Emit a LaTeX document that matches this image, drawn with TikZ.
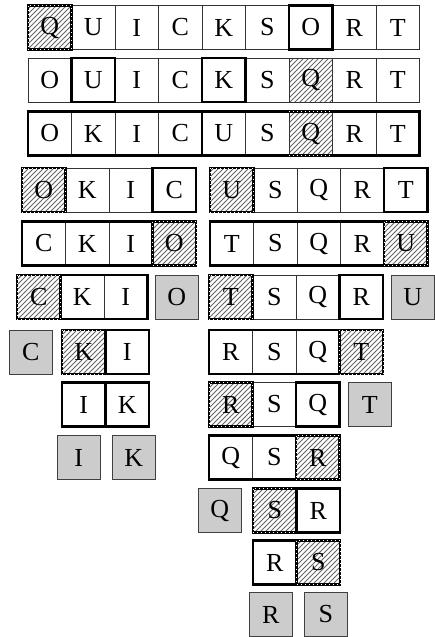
\documentclass[tikz,border=0pt]{standalone}
\usepackage{fontspec}
\setmainfont{Liberation Serif}
\usetikzlibrary{patterns}
% 성긴 빗금 무늬
\pgfdeclarepatternformonly{hatch}{\pgfqpoint{-1pt}{-1pt}}{\pgfqpoint{6pt}{6pt}}{\pgfqpoint{5pt}{5pt}}{
  \pgfsetlinewidth{1pt}
  \pgfpathmoveto{\pgfqpoint{0pt}{0pt}}
  \pgfpathlineto{\pgfqpoint{5.1pt}{5.1pt}}
  \pgfusepath{stroke}}
\tikzset{
  cellbox/.style={draw=black!80, line width=0.7pt, minimum width=43.5pt, minimum height=44pt, inner sep=0pt, outer sep=0pt, font=\fontsize{26}{28}\selectfont},
  pivotcell/.style={cellbox, pattern=hatch, pattern color=black!60},
  donecell/.style={cellbox, fill=gray!40, draw=black!75, line width=1pt},
  ptrline/.style={draw, line width=2.6pt},
  groupline/.style={draw, line width=2.6pt},
  pivotline/.style={draw, line width=2.6pt, postaction={draw, white, line width=1pt, dash pattern=on 1pt off 3pt}}
}
\begin{document}
\begin{tikzpicture}[x=1pt,y=-1pt]
    \useasboundingbox (0,0) rectangle (435,637);

    % 1행
    \foreach \ch/\st [count=\i from 0] in {Q/pivotcell,U/cellbox,I/cellbox,C/cellbox,K/cellbox,S/cellbox,O/cellbox,R/cellbox,T/cellbox}
        \node[\st] (r1\ch) at ({49.75+43.5*\i},27.5) {\ch};
    % 2행
    \foreach \ch/\st [count=\i from 0] in {O/cellbox,U/cellbox,I/cellbox,C/cellbox,K/cellbox,S/cellbox,Q/pivotcell,R/cellbox,T/cellbox}
        \node[\st] (r2\ch) at ({49.75+43.5*\i},80) {\ch};
    % 3행
    \foreach \ch/\st [count=\i from 0] in {O/cellbox,K/cellbox,I/cellbox,C/cellbox,U/cellbox,S/cellbox,Q/pivotcell,R/cellbox,T/cellbox}
        \node[\st] (r3\ch) at ({49.75+43.5*\i},133.5) {\ch};

    % 4행
    \foreach \ch/\st [count=\i from 0] in {O/pivotcell,K/cellbox,I/cellbox,C/cellbox}
        \node[\st] (r4\ch) at ({43.75+43.5*\i},190) {\ch};
    \foreach \ch/\st [count=\i from 0] in {U/pivotcell,S/cellbox,Q/cellbox,R/cellbox,T/cellbox}
        \node[\st] (r4\ch) at ({231.75+43.5*\i},190) {\ch};
    % 5행
    \foreach \ch/\st [count=\i from 0] in {C/cellbox,K/cellbox,I/cellbox,O/pivotcell}
        \node[\st] (r5\ch) at ({43.75+43.5*\i},243.5) {\ch};
    \foreach \ch/\st [count=\i from 0] in {T/cellbox,S/cellbox,Q/cellbox,R/cellbox,U/pivotcell}
        \node[\st] (r5\ch) at ({231.75+43.5*\i},243.5) {\ch};
    % 6행
    \foreach \ch/\st [count=\i from 0] in {C/pivotcell,K/cellbox,I/cellbox}
        \node[\st] (r6\ch) at ({38.75+43.5*\i},297) {\ch};
    \node[donecell] (r6O) at (176.75,297) {O};
    \foreach \ch/\st [count=\i from 0] in {T/pivotcell,S/cellbox,Q/cellbox,R/cellbox}
        \node[\st] (r6\ch) at ({230.75+43.5*\i},297) {\ch};
    \node[donecell] (r6U) at (412.75,297) {U};

    % 7행
    \node[donecell] (r7C) at (30.75,352) {C};
    \foreach \ch/\st [count=\i from 0] in {K/pivotcell,I/cellbox}
        \node[\st] (r7\ch) at ({83.75+43.5*\i},352) {\ch};
    \foreach \ch/\st [count=\i from 0] in {R/cellbox,S/cellbox,Q/cellbox,T/pivotcell}
        \node[\st] (r7\ch) at ({230.75+43.5*\i},352) {\ch};
    % 8행
    \foreach \ch/\st [count=\i from 0] in {I/cellbox,K/cellbox}
        \node[\st] (r8\ch) at ({83.75+43.5*\i},404.5) {\ch};
    \foreach \ch/\st [count=\i from 0] in {R/pivotcell,S/cellbox,Q/cellbox}
        \node[\st] (r8\ch) at ({230.75+43.5*\i},404.5) {\ch};
    \node[donecell] (r8T) at (369.75,404.5) {T};
    % 9행
    \node[donecell] (r9I) at (78.75,457.5) {I};
    \node[donecell] (r9K) at (133.75,457.5) {K};
    \foreach \ch/\st [count=\i from 0] in {Q/cellbox,S/cellbox,R/pivotcell}
        \node[\st] (r9\ch) at ({230.75+43.5*\i},457.5) {\ch};

    % 10행 ~ 12행
    \node[donecell] (r10Q) at (219.75,510.5) {Q};
    \foreach \ch/\st [count=\i from 0] in {S/pivotcell,R/cellbox}
        \node[\st] (r10\ch) at ({274.75+43.5*\i},510.5) {\ch};
    \foreach \ch/\st [count=\i from 0] in {R/cellbox,S/pivotcell}
        \node[\st] (r11\ch) at ({274.75+43.5*\i},562.5) {\ch};
    \node[donecell] (r12R) at (270.75,614.5) {R};
    \node[donecell] (r12S) at (325.75,614.5) {S};

    % 굵은 테두리 (그룹, 포인터, 피벗)
    \draw[pivotline] (r1Q.north west) rectangle (r1Q.south east);
    \draw[ptrline] (r1O.north west) rectangle (r1O.south east);
    \draw[ptrline] (r2U.north west) rectangle (r2U.south east);
    \draw[ptrline] (r2K.north west) rectangle (r2K.south east);
    \draw[groupline] (r3O.north west) rectangle (r3C.south east);
    \draw[groupline] (r3U.north west) rectangle (r3T.south east);
    \draw[pivotline] (r3Q.north west) -- (r3Q.north east) (r3Q.south west) -- (r3Q.south east);

    \draw[pivotline] (r4O.north west) rectangle (r4O.south east);
    \draw[ptrline] (r4C.north west) rectangle (r4C.south east);
    \draw[pivotline] (r4U.north west) rectangle (r4U.south east);
    \draw[ptrline] (r4T.north west) rectangle (r4T.south east);
    \draw[groupline] (r5C.north west) rectangle (r5I.south east);
    \draw[pivotline] (r5O.north west) rectangle (r5O.south east);
    \draw[groupline] (r5T.north west) rectangle (r5R.south east);
    \draw[pivotline] (r5U.north west) rectangle (r5U.south east);
    \draw[groupline] (r6C.north west) rectangle (r6I.south east);
    \draw[pivotline] (r6C.north west) rectangle (r6C.south east);
    \draw[pivotline] (r6T.north west) rectangle (r6T.south east);
    \draw[ptrline] (r6R.north west) rectangle (r6R.south east);

    \draw[pivotline] (r7K.north west) rectangle (r7K.south east);
    \draw[ptrline] (r7I.north west) rectangle (r7I.south east);
    \draw[groupline] (r7R.north west) rectangle (r7Q.south east);
    \draw[pivotline] (r7T.north west) rectangle (r7T.south east);
    \draw[ptrline] (r8I.north west) rectangle (r8I.south east);
    \draw[ptrline] (r8K.north west) rectangle (r8K.south east);
    \draw[pivotline] (r8R.north west) rectangle (r8R.south east);
    \draw[ptrline] (r8Q.north west) rectangle (r8Q.south east);
    \draw[groupline] (r9Q.north west) rectangle (r9S.south east);
    \draw[pivotline] (r9R.north west) rectangle (r9R.south east);

    \draw[pivotline] (r10S.north west) rectangle (r10S.south east);
    \draw[ptrline] (r10R.north west) rectangle (r10R.south east);
    \draw[ptrline] (r11R.north west) rectangle (r11R.south east);
    \draw[pivotline] (r11S.north west) rectangle (r11S.south east);
\end{tikzpicture}
\end{document}
